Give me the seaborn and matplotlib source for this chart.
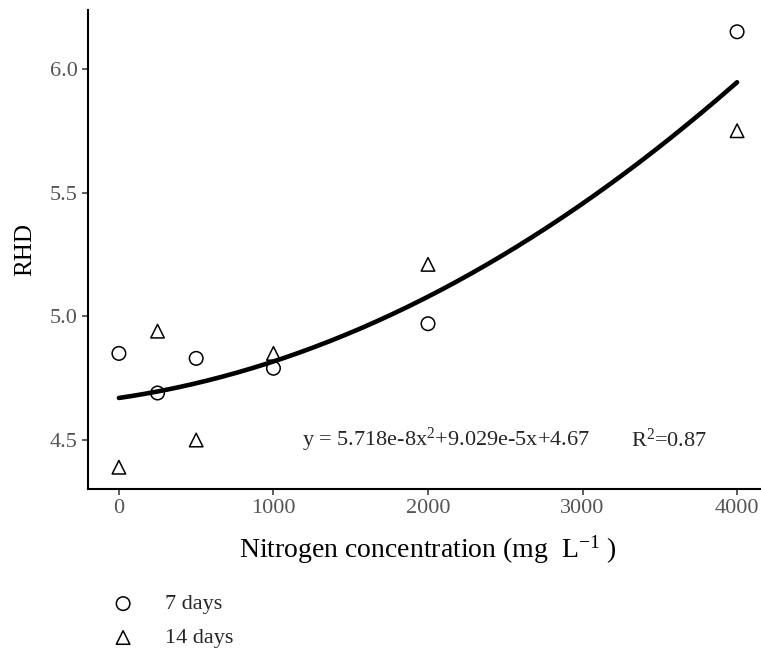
import numpy as np
import pandas as pd
import seaborn as sns
import matplotlib.pyplot as plt

nitrogen = [0, 250, 500, 1000, 2000, 4000]
rhd_7days = [4.85, 4.69, 4.83, 4.79, 4.97, 6.15]
rhd_14days = [4.39, 4.94, 4.50, 4.85, 5.21, 5.75]

# quadratic fit shown on the chart
coef_a, coef_b, coef_c = 5.718e-8, 9.029e-5, 4.67
r_squared = 0.87

sns.set_theme(style="white")
plt.rcParams['font.family'] = ['Liberation Serif', 'DejaVu Serif']
plt.rcParams['mathtext.fontset'] = 'custom'
plt.rcParams['mathtext.rm'] = 'Liberation Serif'
plt.rcParams['mathtext.it'] = 'Liberation Serif'

df = pd.DataFrame({
    'x': nitrogen * 2,
    'y': rhd_7days + rhd_14days,
    'days': ['7 days'] * 6 + ['14 days'] * 6,
})

fig = plt.figure(figsize=(7.61, 6.49), dpi=100)
ax = fig.add_axes([88 / 761, 1 - 489 / 649, (768 - 88) / 761, (489 - 10) / 649])

for label, marker in [('7 days', 'o'), ('14 days', '^')]:
    sub = df[df['days'] == label]
    sns.scatterplot(x='x', y='y', data=sub, marker=marker, s=95,
                    facecolor='none', edgecolor='black', linewidth=1.1,
                    label=label, ax=ax, zorder=3)

xs = np.linspace(0, 4000, 200)
fit = pd.DataFrame({'x': xs, 'y': coef_a * xs ** 2 + coef_b * xs + coef_c})
sns.lineplot(x='x', y='y', data=fit, color='black', linewidth=3.3, ax=ax, legend=False)

ax.text(2116, 4.5, r'y = 5.718e-8x$^2$+9.029e-5x+4.67', fontsize=16,
        ha='center', va='center')
ax.text(3560, 4.5, 'R$^2$=%.2f' % r_squared, fontsize=16, ha='center', va='center')

ax.set_xlim(-200, 4200)
ax.set_ylim(4.302, 6.238)
ax.set_xticks([0, 1000, 2000, 3000, 4000])
ax.set_yticks([4.5, 5.0, 5.5, 6.0])
ax.set_yticklabels(['4.5', '5.0', '5.5', '6.0'])
ax.tick_params(axis='both', colors='#333333', labelcolor='#555555',
               labelsize=16, length=4, width=1.1, direction='out',
               bottom=True, left=True)
ax.spines['top'].set_visible(False)
ax.spines['right'].set_visible(False)
for s in ['left', 'bottom']:
    ax.spines[s].set_color('black')
    ax.spines[s].set_linewidth(1.5)

ax.set_xlabel(r'Nitrogen concentration (mg  L$^{-1}$ )', fontsize=20, color='black', labelpad=11)
ax.set_ylabel('RHD', fontsize=18, color='black', labelpad=10)

leg = ax.legend(loc='upper left', bbox_to_anchor=(92 / 761, 1 - 585 / 649),
                bbox_transform=fig.transFigure, frameon=False, fontsize=16,
                handletextpad=0.9, labelspacing=0.6, borderaxespad=0)

fig.savefig('out.png', dpi=100)
